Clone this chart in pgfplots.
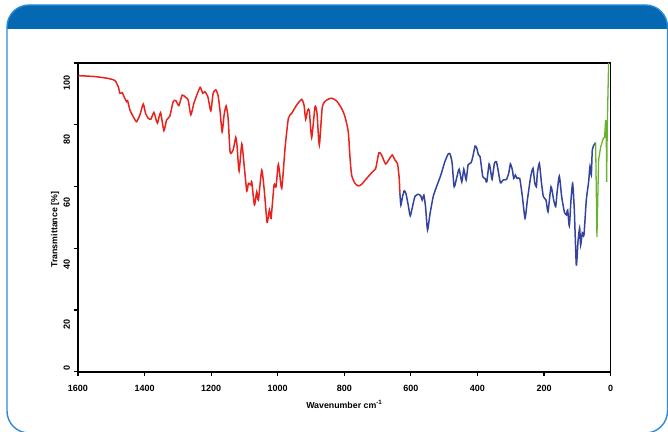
\documentclass[border=0pt]{standalone}
\usepackage{fontspec}
\setmainfont{Liberation Sans}
\usepackage{pgfplots}
\pgfplotsset{compat=1.18}

\definecolor{hdrblue}{HTML}{0468B3}
\definecolor{frameblue}{HTML}{2E8AD6}
\definecolor{irred}{HTML}{E8231E}
\definecolor{irblue}{HTML}{34449E}
\definecolor{irgreen}{HTML}{6AB42D}

\begin{document}
\begin{tikzpicture}[x=1pt,y=1pt]
\useasboundingbox (0,0) rectangle (668,431);
% header bar and frame
\fill[hdrblue] (7,402) [rounded corners=22pt] -- (7,426) -- (667.5,426) [sharp corners] -- (667.5,402) -- cycle;
\draw[frameblue, line width=1.4pt, rounded corners=22pt] (7,-2) rectangle (667.5,426);

\begin{axis}[
    at={(78pt,59.3pt)}, anchor=south west,
    scale only axis,
    width=532.6pt, height=308.7pt,
    x dir=reverse,
    xmin=0, xmax=1600, ymin=0, ymax=100,
    xtick={0,200,...,1600},
    ytick={0,20,...,100},
    yticklabels={},
    extra y ticks={2.0,16.1,35.4,55.6,75.9,94.2},
    extra y tick labels={0,20,40,60,80,100},
    extra y tick style={major tick length=0pt, tick style={draw=none}},
    tick pos=left,
    tick align=outside,
    major tick length=4pt,
    tick style={black, line width=1.2pt},
    axis line style={black, line width=1.6pt},
    /pgf/number format/assume math mode=true,
    /pgf/number format/1000 sep={},
    tick label style={font=\fontsize{9}{10}\selectfont\bfseries},
    yticklabel style={rotate=90, anchor=south, xshift=-2pt, yshift=4.5pt},
    xticklabel style={yshift=-6pt},
    xlabel={Wavenumber cm\textsuperscript{-1}},
    ylabel={Transmittance [\%]},
    every axis x label/.style={at={(axis description cs:0.5,-0.105)}, anchor=center,
        font=\fontsize{8.8}{10}\selectfont\bfseries},
    every axis y label/.style={at={(axis description cs:-0.043,0.46)}, anchor=center, rotate=90,
        font=\fontsize{8.8}{10}\selectfont\bfseries},
    clip=false,
]
\addplot[irred, line width=1.5pt, smooth, tension=0.35] coordinates {
(1599,95.9) (1549,95.6) (1509,95.0) (1489,94.3) (1479,92.3) (1474,90.2)
(1467,90.4) (1461,88.9) (1454,87.5) (1451,87.8) (1444,84.8) (1434,82.6)
(1424,81.0) (1414,83.2) (1404,86.7) (1397,83.7) (1389,82.1) (1381,81.8)
(1372,84.0) (1365,81.5) (1361,80.5) (1352,83.9) (1342,78.1) (1334,81.5)
(1324,82.8) (1314,87.5) (1306,87.8) (1297,86.2) (1287,89.6) (1277,88.9)
(1269,88.0) (1261,83.2) (1252,86.9) (1243,89.6) (1233,92.1) (1225,90.2)
(1219,90.7) (1210,89.1) (1201,84.5) (1194,90.2) (1186,91.3) (1179,89.4)
(1173,84.2) (1167,77.7) (1161,83.2) (1155,86.1) (1149,82.1) (1143,71.1)
(1134,71.8) (1126,75.9) (1122,72.9) (1116,65.0) (1108,73.8) (1101,67.0)
(1093,58.5) (1088,61.0) (1081,60.5) (1078,61.5) (1070,54.0) (1063,58.3)
(1058,55.6) (1048,65.3) (1040,58.3) (1032,48.4) (1025,52.4) (1020,49.7)
(1011,60.5) (1005,59.9) (998,67.2) (988,59.4) (978,72.4) (968,82.1)
(958,83.7) (943,86.4) (928,88.2) (921,86.4) (916,81.8) (910,84.8)
(905,84.5) (898,75.8) (888,85.8) (882,83.7) (875,73.4) (866,85.8)
(853,88.0) (838,88.6) (823,87.7) (808,85.3) (798,82.6) (788,77.7)
(783,69.6) (778,63.7) (768,61.0) (758,60.2) (748,60.7) (728,63.2)
(713,65.0) (706,65.7) (696,70.9) (688,70.2) (676,67.3) (665,68.9)
(656,70.2) (648,68.6) (640,67.3) (635,62.6) (633,57.8)
};
\addplot[irblue, line width=1.5pt, smooth, tension=0.35] coordinates {
(633,57.8) (630,54.0) (625,56.7) (620,58.6) (615,57.8) (608,54.0)
(602,50.5) (595,53.5) (588,56.7) (578,57.5) (570,56.9) (566,55.6)
(561,57.2) (556,53.5) (550,45.9) (543,50.8) (533,56.7) (523,59.9)
(510,63.7) (498,68.0) (488,70.5) (482,70.5) (476,67.5) (470,59.9)
(462,63.0) (455,65.6) (447,61.5) (441,65.6) (434,62.1) (428,67.0)
(419,67.7) (414,69.6) (407,73.1) (402,72.4) (397,70.2) (392,69.6)
(384,63.2) (377,62.6) (372,61.5) (365,67.3) (360,64.8) (356,62.3)
(349,67.5) (343,68.0) (338,65.3) (331,61.2) (323,62.1) (313,62.3)
(306,64.3) (301,67.3) (295,65.3) (291,62.6) (286,63.7) (281,62.6)
(273,62.6) (265,56.7) (257,49.7) (250,55.6) (240,63.2) (233,65.9)
(228,61.2) (223,59.9) (220,64.3) (214,67.5) (208,61.5) (202,56.7)
(194,55.6) (188,51.8) (179,59.9) (171,55.6) (165,53.5) (161,57.8)
(154,63.4) (147,56.7) (139,51.8) (133,50.8) (129,52.4) (124,47.2)
(119,55.6) (114,61.0) (109,52.4) (103,34.6) (98,42.1) (93,46.5)
(90,41.0) (85,45.0) (80,44.3) (73,55.6) (66,61.5) (62,66.4)
(58,63.7) (55,71.8) (50,73.4) (45,74.2)
};
\addplot[irgreen, line width=1.3pt] coordinates {
(45,74.2) (41,43.7) (36,68.6) (30,72.7) (22,75.6) (18,75.9)
(15,81.5) (13,79.4) (12,61.5) (10,79.4) (6,99.9) (5,100)
};
\end{axis}
\end{tikzpicture}
\end{document}
